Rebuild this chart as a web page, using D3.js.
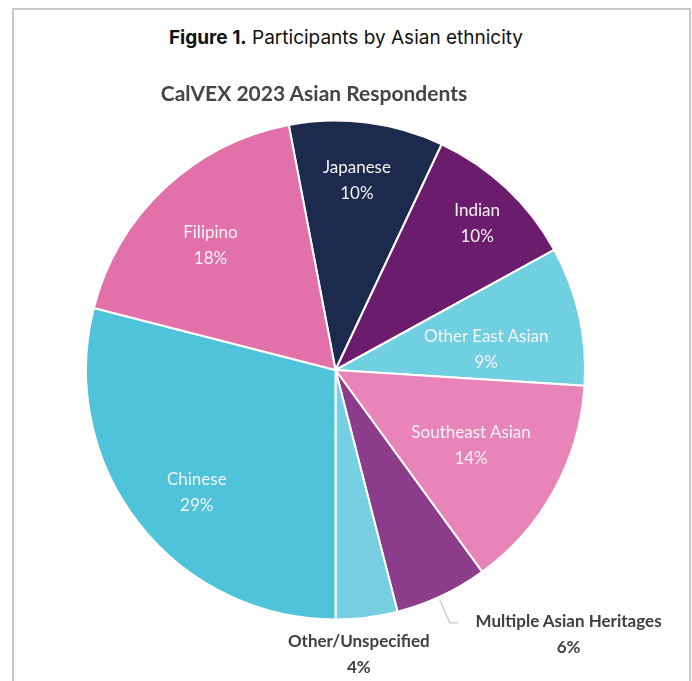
<!DOCTYPE html>
<html>
<head>
<meta charset="utf-8">
<script src="https://cdn.jsdelivr.net/npm/d3@7"></script>
<style>
  html, body { margin: 0; padding: 0; background: #fff; }
  svg { display: block; }
</style>
</head>
<body>
<svg id="chart" width="692" height="681"></svg>
<script>
// Asian respondents by ethnicity, clockwise from the top
const categories = ["Japanese", "Indian", "Other East Asian", "Southeast Asian",
  "Multiple Asian Heritages", "Other/Unspecified", "Chinese", "Filipino"];
const shares = [10, 10, 9, 14, 6, 4, 29, 18];
const sliceColors = ["#1d2b4d", "#6c1c6c", "#6fcfe0", "#e884b8",
  "#8b3d8c", "#74cfe0", "#4fc3d9", "#e270a9"];
const shareLabels = shares.map(v => v + "%");

// label placement: radius as fraction of pie radius, angle nudge in degrees
const labelPlacement = {
  "Japanese": { r: 0.77, da: -0.8, inside: true },
  "Indian": { r: 0.82, da: 0.6, inside: true },
  "Other East Asian": { r: 0.61, da: 4.5, inside: true },
  "Southeast Asian": { r: 0.62, da: 0, inside: true },
  "Multiple Asian Heritages": { r: 1.41, da: -16.3, inside: false },
  "Other/Unspecified": { r: 1.14, da: 2.5, inside: false },
  "Chinese": { r: 0.74, da: -3.5, inside: true },
  "Filipino": { r: 0.71, da: -1.7, inside: true }
};

const svg = d3.select("#chart");
const W = 692, H = 681;
const cx = 335.5, cy = 370, R = 249.5;

// figure frame (open at the bottom)
svg.append("path")
  .attr("d", `M13,${H} L13,9 L690,9 L690,${H}`)
  .attr("fill", "none")
  .attr("stroke", "#c8c8c8")
  .attr("stroke-width", 2);

// figure caption
const cap = svg.append("text")
  .attr("x", 346).attr("y", 44)
  .attr("text-anchor", "middle")
  .attr("font-family", "Inter, 'Open Sans', sans-serif")
  .attr("font-size", 19)
  .attr("fill", "#111");
cap.append("tspan").attr("font-weight", 700).text("Figure 1.");
cap.append("tspan").attr("font-weight", 400).text(" Participants by Asian ethnicity");

// soft rendering for the embedded chart
const defs = svg.append("defs");
defs.append("filter").attr("id", "soft")
  .append("feGaussianBlur").attr("stdDeviation", 0.6);

const chart = svg.append("g").attr("filter", "url(#soft)");

chart.append("text")
  .attr("x", 314).attr("y", 101)
  .attr("text-anchor", "middle")
  .attr("font-family", "Lato, sans-serif")
  .attr("font-weight", 700)
  .attr("font-size", 21)
  .attr("fill", "#444")
  .text("CalVEX 2023 Asian Respondents");

const total = d3.sum(shares);
const leadShare = d3.sum(shares.slice(0, 6));
const start = Math.PI - leadShare / total * 2 * Math.PI;

const pie = d3.pie().sort(null).value(d => d)
  .startAngle(start).endAngle(start + 2 * Math.PI);
const arcs = pie(shares);
const arc = d3.arc().innerRadius(0).outerRadius(R);

const g = chart.append("g").attr("transform", `translate(${cx},${cy})`);

g.selectAll("path.slice")
  .data(arcs)
  .join("path")
  .attr("class", "slice")
  .attr("d", arc)
  .attr("fill", (d, i) => sliceColors[i])
  .attr("stroke", "#fff")
  .attr("stroke-width", 2)
  .attr("stroke-linejoin", "round");

// leader line for the small outside label
const mIdx = categories.indexOf("Multiple Asian Heritages");
const mArc = arcs[mIdx];
const mMid = (mArc.startAngle + mArc.endAngle) / 2 + 0.8 * Math.PI / 180;
const p0 = [ (R + 3) * Math.sin(mMid), -(R + 3) * Math.cos(mMid) ];
g.append("path")
  .attr("d", d3.line()([p0, [p0[0] + 10, p0[1] + 23], [p0[0] + 18, p0[1] + 23]]))
  .attr("fill", "none")
  .attr("stroke", "#c9c9c9")
  .attr("stroke-width", 1.3);

const labels = g.selectAll("g.lbl")
  .data(arcs)
  .join("g")
  .attr("class", "lbl")
  .attr("transform", (d, i) => {
    const p = labelPlacement[categories[i]];
    const a = (d.startAngle + d.endAngle) / 2 + p.da * Math.PI / 180;
    const r = p.r * R;
    return `translate(${r * Math.sin(a)},${-r * Math.cos(a)})`;
  });

labels.each(function (d, i) {
  const p = labelPlacement[categories[i]];
  const sel = d3.select(this);
  const fill = p.inside ? "#f4f4f4" : "#404040";
  [categories[i], shareLabels[i]].forEach((t, k) => {
    sel.append("text")
      .attr("y", k === 0 ? -13 : 13)
      .attr("text-anchor", "middle")
      .attr("dominant-baseline", "central")
      .attr("font-family", "Lato, sans-serif")
      .attr("font-size", 17)
      .attr("font-weight", p.inside ? 400 : 700)
      .attr("fill", fill)
      .text(t);
  });
});
</script>
</body>
</html>
